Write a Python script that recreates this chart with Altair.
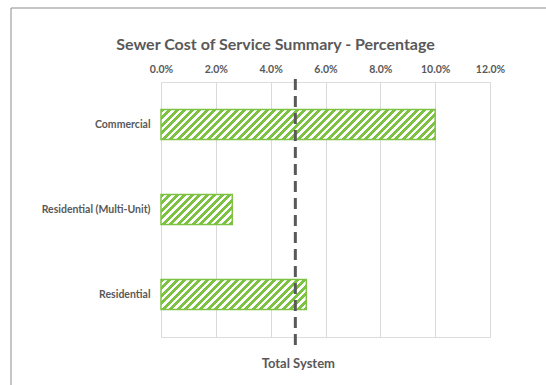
import altair as alt
import pandas as pd

# ---- data ----
categories = ["Commercial", "Residential (Multi-Unit)", "Residential"]
percentages = [0.100, 0.026, 0.053]
total_system = 0.049
total_label = "Total System"
tick_values = [0.0, 0.02, 0.04, 0.06, 0.08, 0.10, 0.12]
title_text = "Sewer Cost of Service Summary - Percentage"

df = pd.DataFrame({"category": categories, "pct": percentages})
ref = pd.DataFrame({"pct": [total_system], "label": [total_label]})

# ---- layout / style ----
W, H = 329, 255
X_MAX = 0.12
P_INNER, P_OUTER = 0.647, 0.3235
GREEN = "#7DC242"
GRAY = "#595959"
FONT = "Lato"

step = H / (len(categories) - P_INNER + 2 * P_OUTER)
band_h = step * (1 - P_INNER)


def stripe_gradient(bar_w, bar_h, period=7.5, green_w=3.6):
    r = bar_h / bar_w
    x2 = (1 + r) / (1 + r * r)
    y2 = r * (1 + r) / (1 + r * r)
    total = bar_w + bar_h
    stops = []
    k = 0
    while k * period < total:
        s = k * period
        a = min(s / total, 1.0)
        b = min((s + green_w) / total, 1.0)
        c = min((s + period) / total, 1.0)
        stops += [
            {"offset": a, "color": GREEN},
            {"offset": b, "color": GREEN},
            {"offset": b, "color": "#FFFFFF"},
            {"offset": c, "color": "#FFFFFF"},
        ]
        k += 1
    return {"gradient": "linear", "x1": 0, "y1": 0, "x2": x2, "y2": y2, "stops": stops}


x_scale = alt.Scale(domain=[0, X_MAX], nice=False, zero=True)
y_scale = alt.Scale(domain=categories, paddingInner=P_INNER, paddingOuter=P_OUTER)

base = alt.Chart(df)

bar_layers = []
for cat, v in zip(categories, percentages):
    bw = v / X_MAX * W
    grad = stripe_gradient(bw, band_h)
    bar_layers.append(
        base.transform_filter(alt.datum.category == cat)
        .mark_bar(stroke=GREEN, strokeWidth=1.5, cornerRadius=0)
        .encode(
            x=alt.X("pct:Q", scale=x_scale,
                    axis=alt.Axis(orient="top", values=tick_values, format=".1%",
                                  grid=True, gridColor="#D9D9D9", gridWidth=1,
                                  domain=False, ticks=False, title=None, labelFlush=False,
                                  labelFont=FONT, labelFontSize=10.5, labelFontWeight="bold",
                                  labelColor=GRAY, labelPadding=8)),
            y=alt.Y("category:N", scale=y_scale, sort=categories,
                    axis=alt.Axis(domain=False, ticks=False, title=None, grid=False,
                                  labelFont=FONT, labelFontSize=10.5, labelFontWeight="bold",
                                  labelColor=GRAY, labelPadding=11)),
            fill=alt.value(grad),
        )
    )

rule = alt.Chart(ref).mark_rule(color=GRAY, strokeWidth=3, strokeDash=[11, 6]).encode(
    x=alt.X("pct:Q", scale=x_scale),
    y=alt.value(-3),
    y2=alt.value(264),
)

rule_text = alt.Chart(ref).mark_text(
    font=FONT, fontSize=13, fontWeight="bold", color=GRAY, baseline="alphabetic",
    align="center", dx=3
).encode(
    x=alt.X("pct:Q", scale=x_scale),
    y=alt.value(286),
    text="label:N",
)

# chart-area frame (decorative border)
frame_top = alt.Chart(ref).mark_rule(color="#8C8C8C", strokeWidth=1).encode(
    x=alt.value(-150), x2=alt.value(420), y=alt.value(-74)
)
frame_left = alt.Chart(ref).mark_rule(color="#8C8C8C", strokeWidth=1).encode(
    x=alt.value(-150), y=alt.value(-74), y2=alt.value(330)
)

chart = alt.layer(frame_top, frame_left, *bar_layers, rule, rule_text).properties(
    width=W,
    height=H,
    title=alt.TitleParams(title_text, font=FONT, fontSize=16, fontWeight="bold",
                          color=GRAY, anchor="middle", baseline="alphabetic",
                          dx=-50, offset=0, dy=58.5),
    autosize=alt.AutoSizeParams(type="none"),
    padding={"left": 161, "top": 82, "right": 56, "bottom": 48},
).configure_view(stroke=None).configure(background="white")

chart.save("out.html", embed_options={"renderer": "svg", "actions": False})
